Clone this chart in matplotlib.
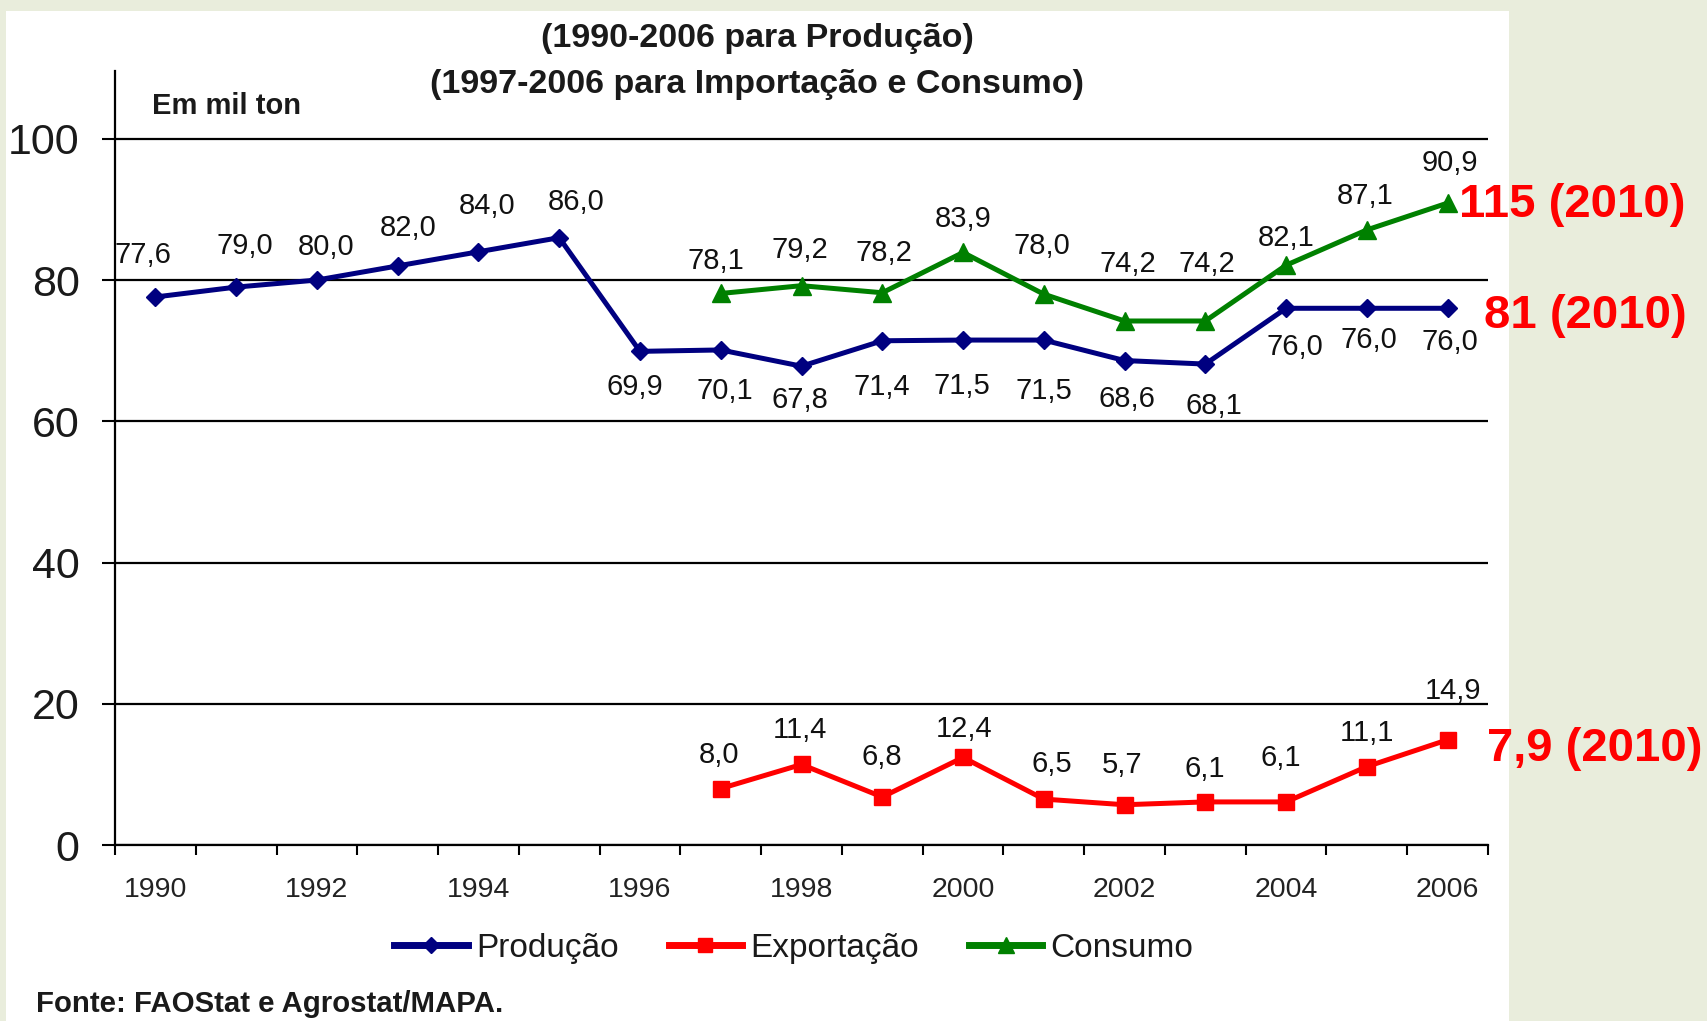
import matplotlib
matplotlib.use("Agg")
import matplotlib.pyplot as plt
from matplotlib.patches import Rectangle
from matplotlib.lines import Line2D

plt.rcParams['font.family'] = ['Liberation Sans', 'DejaVu Sans']

# ---------------- data ----------------
years_prod = list(range(1990, 2007))
producao = [77.6, 79.0, 80.0, 82.0, 84.0, 86.0, 69.9, 70.1, 67.8, 71.4,
            71.5, 71.5, 68.6, 68.1, 76.0, 76.0, 76.0]
years_other = list(range(1997, 2007))
exportacao = [8.0, 11.4, 6.8, 12.4, 6.5, 5.7, 6.1, 6.1, 11.1, 14.9]
consumo = [78.1, 79.2, 78.2, 83.9, 78.0, 74.2, 74.2, 82.1, 87.1, 90.9]

series_names = ["Produção", "Exportação", "Consumo"]
xtick_years = list(range(1990, 2007, 2))
yticks = [0, 20, 40, 60, 80, 100]
title_lines = ["(1990-2006 para Produção)", "(1997-2006 para Importação e Consumo)"]
unit_text = "Em mil ton"
source_text = "Fonte: FAOStat e Agrostat/MAPA."
proj_texts = ["115 (2010)", "81 (2010)", "7,9 (2010)"]

# label offsets (pixels) -- layout only
off_prod = [(-12, 42), (9, 41), (9, 33), (10, 38), (9, 46), (17, 36),
            (-5, -36), (4, -41), (-2, -34), (0, -46), (-1, -46), (0, -51),
            (2, -38), (9, -42), (9, -39), (2, -32), (2, -34)]
off_cons = [(-5, 32), (-2, 36), (2, 40), (0, 33), (-2, 48), (3, 57),
            (2, 57), (0, 27), (-2, 34), (2, 40)]
off_exp = [(-2, 34), (-2, 34), (0, 40), (1, 28), (8, 35), (-2, 40),
           (-1, 33), (-5, 44), (0, 34), (5, 49)]

W, H = 1708, 1021
fig = plt.figure(figsize=(W / 100, H / 100), dpi=100)
fig.patch.set_facecolor('#E9EDDC')
panel = Rectangle((6 / W, 0), (1509 - 6) / W, 1 - 11 / H,
                  transform=fig.transFigure, facecolor='white',
                  edgecolor='none', zorder=-10)
fig.add_artist(panel)

ax = fig.add_axes([115 / W, 1 - 845 / H, (1488 - 115) / W, (845 - 71) / H])
ax.set_zorder(1)
ax.set_facecolor('none')
ax.set_xlim(1989.5, 2006.5)
ax.set_ylim(0, 109.6)

for s in ['top', 'right']:
    ax.spines[s].set_visible(False)
for s in ['left', 'bottom']:
    ax.spines[s].set_color('black')
    ax.spines[s].set_linewidth(1.6)

ax.set_yticks(yticks)
ax.set_yticklabels([str(v) for v in yticks])
ax.tick_params(axis='y', length=9.4, width=1.5, direction='out', pad=16,
               labelsize=31, labelcolor='#1a1a1a')
ax.yaxis.grid(True, color='black', lw=1.6)
ax.set_axisbelow(True)

ax.set_xticks(xtick_years)
ax.set_xticklabels([str(y) for y in xtick_years])
ax.set_xticks([1989.5 + k for k in range(18)], minor=True)
ax.tick_params(axis='x', which='major', length=0, pad=23, labelsize=20.5,
               labelcolor='#222222')
ax.tick_params(axis='x', which='minor', length=7.2, width=1.5, direction='out')

c_prod, c_exp, c_cons = '#000080', '#FF0000', '#008000'
ax.plot(years_prod, producao, color=c_prod, lw=3.6, marker='D', ms=9,
        clip_on=False, zorder=3)
ax.plot(years_other, exportacao, color=c_exp, lw=3.6, marker='s', ms=12,
        clip_on=False, zorder=3)
ax.plot(years_other, consumo, color=c_cons, lw=3.6, marker='^', ms=13,
        clip_on=False, zorder=3)

def fmt(v):
    return f"{v:.1f}".replace('.', ',')

lab_kw = dict(textcoords='offset pixels', ha='center', va='center',
              fontsize=21, color='#111111', annotation_clip=False)
for x, v, o in zip(years_prod, producao, off_prod):
    ax.annotate(fmt(v), (x, v), xytext=o, **lab_kw)
for x, v, o in zip(years_other, consumo, off_cons):
    ax.annotate(fmt(v), (x, v), xytext=o, **lab_kw)
for x, v, o in zip(years_other, exportacao, off_exp):
    ax.annotate(fmt(v), (x, v), xytext=o, **lab_kw)

# projections for 2010 next to 2006 points
red_kw = dict(textcoords='offset pixels', ha='left', va='center',
              fontsize=34, fontweight='bold', color='#FF0000',
              annotation_clip=False)
ax.annotate(proj_texts[0], (years_other[-1], consumo[-1]), xytext=(11, -2), **red_kw)
ax.annotate(proj_texts[1], (years_prod[-1], producao[-1]), xytext=(36, -8), **red_kw)
ax.annotate(proj_texts[2], (years_other[-1], exportacao[-1]), xytext=(39, -9), **red_kw)

# titles and texts
fig.text(757 / W, 1 - 38 / H, title_lines[0], ha='center', va='center',
         fontsize=24.5, fontweight='bold', color='#1a1a1a')
fig.text(757 / W, 1 - 85 / H, title_lines[1], ha='center', va='center',
         fontsize=24.5, fontweight='bold', color='#1a1a1a')
fig.text(152 / W, 1 - 106 / H, unit_text, ha='left', va='center',
         fontsize=21, fontweight='bold', color='#1a1a1a')
fig.text(36 / W, 1 - 1004 / H, source_text, ha='left', va='center',
         fontsize=21.2, fontweight='bold', color='#1a1a1a')

handles = [Line2D([], [], color=c_prod, lw=5, marker='D', ms=8),
           Line2D([], [], color=c_exp, lw=5, marker='s', ms=10),
           Line2D([], [], color=c_cons, lw=5, marker='^', ms=11)]
leg = ax.legend(handles, series_names, loc='center',
                bbox_to_anchor=(794 / W, 1 - 948 / H),
                bbox_transform=fig.transFigure, ncol=3, frameon=False,
                fontsize=24, handlelength=2.2, handletextpad=0.25,
                columnspacing=1.5, borderpad=0)
for t in leg.get_texts():
    t.set_color('#1a1a1a')

fig.savefig('out.png', dpi=100, facecolor=fig.get_facecolor())
